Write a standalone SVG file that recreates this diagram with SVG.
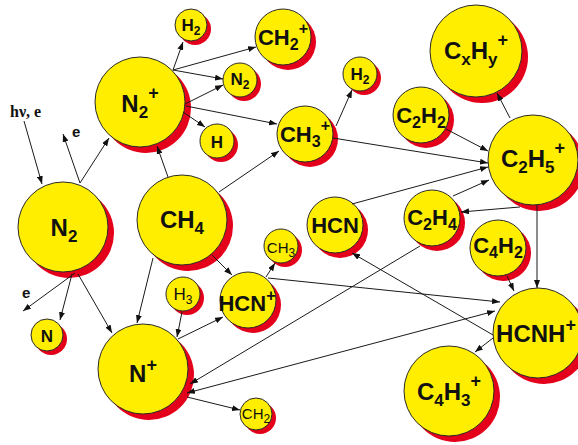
<svg xmlns="http://www.w3.org/2000/svg" width="578" height="445" viewBox="0 0 578 445">
<style>
  .sh { fill: #e4001b; stroke: none; }
  .bd { fill: #ffee00; stroke: #2a2a2a; stroke-width: 1; }
  .lb { font-family: "Liberation Sans", Arial, sans-serif; font-weight: bold; fill: #111; text-anchor: middle; }
  .lr { font-family: "Liberation Sans", Arial, sans-serif; font-weight: normal; fill: #111; text-anchor: middle; }
  .big { font-size: 24px; }
  .med { font-size: 22px; }
  .sm { font-size: 17px; }
  .tiny { font-size: 15px; }
  .big .s { font-size: 17px; }
  .med .s { font-size: 16px; }
  .sm .s, .tiny .s { font-size: 12px; }
  .big .p { font-size: 18px; }
  .med .p { font-size: 16px; }
  .cx line { stroke: #1a1a1a; stroke-width: 1; fill: none; marker-end: url(#ah); }
  .note { font-weight: bold; fill: #111; }
</style>
<defs>
  <marker id="ah" viewBox="0 0 8 6" refX="8" refY="3" markerWidth="8" markerHeight="6" markerUnits="userSpaceOnUse" orient="auto-start-reverse">
    <path d="M0,0 L8,3 L0,6 z" fill="#111"/>
  </marker>
</defs>
<rect width="578" height="445" fill="#fff"/>

<!-- species -->
<g id="n2p"><circle class="sh" cx="146" cy="108" r="45"/><circle class="bd" cx="140" cy="102" r="45"/>
  <text class="lb big" x="140" y="112">N<tspan class="s" dy="6">2</tspan><tspan class="p" dy="-19">+</tspan></text></g>
<g id="h2a"><circle class="sh" cx="195" cy="29" r="16"/><circle class="bd" cx="191" cy="25" r="16"/>
  <text class="lb sm" x="191" y="31">H<tspan class="s" dy="4">2</tspan></text></g>
<g id="ch2p"><circle class="sh" cx="288" cy="42" r="28"/><circle class="bd" cx="283" cy="37" r="28"/>
  <text class="lb med" x="283" y="45">CH<tspan class="s" dy="5">2</tspan><tspan class="p" dy="-16">+</tspan></text></g>
<g id="n2s"><circle class="sh" cx="244" cy="84" r="17"/><circle class="bd" cx="240" cy="80" r="17"/>
  <text class="lb sm" x="240" y="85">N<tspan class="s" dy="4">2</tspan></text></g>
<g id="h"><circle class="sh" cx="221" cy="145" r="17"/><circle class="bd" cx="217" cy="141" r="17"/>
  <text class="lb sm" x="217" y="148">H</text></g>
<g id="ch3p"><circle class="sh" cx="310" cy="139" r="28"/><circle class="bd" cx="305" cy="134" r="28"/>
  <text class="lb med" x="305" y="142">CH<tspan class="s" dy="5">3</tspan><tspan class="p" dy="-16">+</tspan></text></g>
<g id="h2b"><circle class="sh" cx="364" cy="78" r="17"/><circle class="bd" cx="360" cy="74" r="17"/>
  <text class="lb sm" x="360" y="80">H<tspan class="s" dy="4">2</tspan></text></g>
<g id="cxhyp"><circle class="sh" cx="482" cy="57" r="46"/><circle class="bd" cx="476" cy="51" r="46"/>
  <text class="lb big" x="476" y="59">C<tspan class="s" dy="6">x</tspan><tspan dy="-6">H</tspan><tspan class="s" dy="6">y</tspan><tspan class="p" dy="-19">+</tspan></text></g>
<g id="c2h2"><circle class="sh" cx="426" cy="120" r="28"/><circle class="bd" cx="421" cy="115" r="28"/>
  <text class="lb med" x="421" y="123">C<tspan class="s" dy="5">2</tspan><tspan dy="-5">H</tspan><tspan class="s" dy="5">2</tspan></text></g>
<g id="c2h5p"><circle class="sh" cx="539" cy="166" r="45"/><circle class="bd" cx="533" cy="160" r="45"/>
  <text class="lb big" x="533" y="167">C<tspan class="s" dy="6">2</tspan><tspan dy="-6">H</tspan><tspan class="s" dy="6">5</tspan><tspan class="p" dy="-19">+</tspan></text></g>
<g id="n2"><circle class="sh" cx="69" cy="233" r="45"/><circle class="bd" cx="63" cy="227" r="45"/>
  <text class="lb big" x="64" y="236">N<tspan class="s" dy="6">2</tspan></text></g>
<g id="ch4"><circle class="sh" cx="188" cy="226" r="45"/><circle class="bd" cx="182" cy="220" r="45"/>
  <text class="lb big" x="182" y="228">CH<tspan class="s" dy="6">4</tspan></text></g>
<g id="hcn"><circle class="sh" cx="340" cy="230" r="28"/><circle class="bd" cx="335" cy="225" r="28"/>
  <text class="lb med" x="335" y="233">HCN</text></g>
<g id="ch3"><circle class="sh" cx="285" cy="250" r="17"/><circle class="bd" cx="281" cy="246" r="17"/>
  <text class="lr tiny" x="281" y="253">CH<tspan class="s" dy="4">3</tspan></text></g>
<g id="c2h4"><circle class="sh" cx="437" cy="223" r="28"/><circle class="bd" cx="432" cy="218" r="28"/>
  <text class="lb med" x="432" y="225">C<tspan class="s" dy="5">2</tspan><tspan dy="-5">H</tspan><tspan class="s" dy="5">4</tspan></text></g>
<g id="c4h2"><circle class="sh" cx="503" cy="253" r="28"/><circle class="bd" cx="498" cy="248" r="28"/>
  <text class="lb med" x="498" y="253">C<tspan class="s" dy="5">4</tspan><tspan dy="-5">H</tspan><tspan class="s" dy="5">2</tspan></text></g>
<g id="h3"><circle class="sh" cx="187" cy="298" r="17"/><circle class="bd" cx="183" cy="294" r="17"/>
  <text class="lr sm" x="183" y="300">H<tspan class="s" dy="4">3</tspan></text></g>
<g id="hcnp"><circle class="sh" cx="253" cy="305" r="28"/><circle class="bd" cx="248" cy="300" r="28"/>
  <text class="lb med" x="247" y="311">HCN<tspan class="p" dy="-10">+</tspan></text></g>
<g id="n"><circle class="sh" cx="51" cy="339" r="16"/><circle class="bd" cx="47" cy="335" r="16"/>
  <text class="lb sm" x="47" y="342">N</text></g>
<g id="np"><circle class="sh" cx="149" cy="375" r="45"/><circle class="bd" cx="143" cy="369" r="45"/>
  <text class="lb big" x="143" y="382">N<tspan class="p" dy="-11">+</tspan></text></g>
<g id="ch2"><circle class="sh" cx="260" cy="418" r="16"/><circle class="bd" cx="256" cy="414" r="16"/>
  <text class="lr tiny" x="256" y="419">CH<tspan class="s" dy="4">2</tspan></text></g>
<g id="hcnhp"><circle class="sh" cx="544" cy="339" r="45"/><circle class="bd" cx="538" cy="333" r="45"/>
  <text class="lb big" x="536" y="342">HCNH<tspan class="p" dy="-11">+</tspan></text></g>
<g id="c4h3p"><circle class="sh" cx="455" cy="397" r="45"/><circle class="bd" cx="449" cy="391" r="45"/>
  <text class="lb big" x="449" y="400">C<tspan class="s" dy="6">4</tspan><tspan dy="-6">H</tspan><tspan class="s" dy="6">3</tspan><tspan class="p" dy="-19">+</tspan></text></g>

<!-- free labels -->
<text class="note" x="10" y="117" font-family="'Liberation Serif', 'Times New Roman', serif" font-size="16">hν, e</text>
<text class="note" x="72" y="137" font-family="'Liberation Sans', Arial, sans-serif" font-size="15">e</text>
<text class="note" x="22" y="298" font-family="'Liberation Sans', Arial, sans-serif" font-size="15">e</text>

<!-- reaction arrows -->
<g id="connectors" class="cx">
  <line x1="24" y1="121" x2="42" y2="184"/>
  <line x1="80" y1="183" x2="63" y2="134"/>
  <line x1="80" y1="183" x2="109" y2="138"/>
  <line x1="168" y1="177" x2="157" y2="146"/>
  <line x1="173" y1="70" x2="183" y2="42"/>
  <line x1="173" y1="70" x2="256" y2="47"/>
  <line x1="173" y1="70" x2="223" y2="79"/>
  <line x1="185" y1="104" x2="223" y2="85"/>
  <line x1="183" y1="112" x2="205" y2="127"/>
  <line x1="186" y1="106" x2="277" y2="124"/>
  <line x1="219" y1="192" x2="279" y2="151"/>
  <line x1="336" y1="126" x2="352" y2="90"/>
  <line x1="333" y1="138" x2="488" y2="163"/>
  <line x1="446" y1="129" x2="488" y2="151"/>
  <line x1="352" y1="204" x2="488" y2="167"/>
  <line x1="453" y1="196" x2="489" y2="180"/>
  <line x1="520" y1="207" x2="461" y2="212"/>
  <line x1="510" y1="118" x2="497" y2="93"/>
  <line x1="537" y1="205" x2="537" y2="288"/>
  <line x1="507" y1="276" x2="514" y2="291"/>
  <line x1="493" y1="335" x2="352" y2="253" stroke="#444"/>
  <line x1="420" y1="246" x2="190" y2="384"/>
  <line x1="187" y1="393" x2="495" y2="311" marker-start="url(#ah)"/>
  <line x1="268" y1="278" x2="500" y2="302"/>
  <line x1="75" y1="273" x2="23" y2="311"/>
  <line x1="72" y1="274" x2="60" y2="320"/>
  <line x1="78" y1="274" x2="112" y2="333"/>
  <line x1="153" y1="258" x2="137" y2="323"/>
  <line x1="212" y1="255" x2="232" y2="275"/>
  <line x1="266" y1="277" x2="275" y2="263"/>
  <line x1="182" y1="312" x2="177" y2="337"/>
  <line x1="178" y1="339" x2="223" y2="317"/>
  <line x1="187" y1="397" x2="240" y2="410"/>
  <line x1="493" y1="338" x2="475" y2="352"/>
</g>
</svg>
